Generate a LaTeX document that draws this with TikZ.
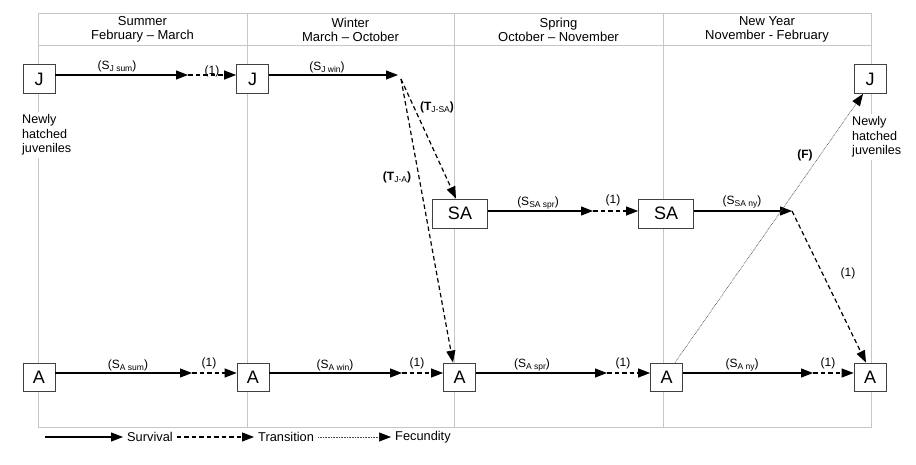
\documentclass[tikz,border=0pt]{standalone}
\usepackage{fontspec}
\setmainfont{Liberation Sans}
\usetikzlibrary{arrows.meta,calc}
\newcommand{\lsub}[1]{\raisebox{-0.3ex}{\fontsize{8.5}{9}\selectfont #1}}
\begin{document}
\begin{tikzpicture}[x=1pt,y=-1pt,
 grid/.style={draw=black!22,line width=0.7pt},
 stage/.style={draw=black!75,fill=white,line width=0.8pt,minimum height=29pt,inner sep=0pt,font=\fontsize{18}{18}\selectfont},
 jbox/.style={stage,minimum width=32pt},
 abox/.style={stage,minimum width=32pt,minimum height=28pt},
 sabox/.style={stage,minimum width=55pt},
 surv/.style={draw=black,line width=1.2pt,-{Triangle[length=12pt,width=9pt]}},
 trans/.style={draw=black,line width=1.2pt,dash pattern=on 4.5pt off 3pt,-{Triangle[length=12pt,width=9pt]}},
 fec/.style={draw=black!70,line width=0.6pt,dash pattern=on 0.8pt off 0.8pt,-{Triangle[length=12pt,width=9pt,color=black]}},
 lab/.style={font=\fontsize{12}{12}\selectfont,inner sep=0pt},
 blab/.style={lab,font=\fontsize{12}{12}\selectfont\bfseries},
 head/.style={font=\fontsize{13}{14}\selectfont,align=center,inner sep=0pt},
 note/.style={font=\fontsize{12.6}{14.5}\selectfont,align=left,fill=white,inner sep=3pt,anchor=north west},
 leg/.style={font=\fontsize{12.8}{13}\selectfont,inner sep=4pt,anchor=west}
]
\fill[white] (0,0) rectangle (916,465);
\useasboundingbox (0,0) rectangle (916,465);
% grid
\draw[grid] (38,13) rectangle (871,427);
\draw[grid] (38,45) -- (871,45);
\foreach \x in {247,454,663} \draw[grid] (\x,13) -- (\x,427);
% headers
\node[head] (h1) at (142.5,29.5) {Summer\\February – March};
\node[head] (h2) at (350.5,29.5) {Winter\\March – October};
\node[head] (h3) at (558.5,29.5) {Spring\\October – November};
\node[head] (h4) at (767,29.5) {New Year\\November - February};
% notes
\node[note] (n1) at (19,111.5) {Newly\\hatched\\juveniles};
\node[note] (n2) at (849,113.5) {Newly\\hatched\\juveniles};
% boxes
\node[jbox] (J1) at (39,79) {J};
\node[jbox] (J2) at (252.5,79) {J};
\node[jbox] (J3) at (870,79) {J};
\node[sabox] (SA1) at (460,213.5) {SA};
\node[sabox] (SA2) at (666,213.5) {SA};
\node[abox] (A1) at (39,377) {A};
\node[abox] (A2) at (253,377) {A};
\node[abox] (A3) at (459.5,377) {A};
\node[abox] (A4) at (666.5,377) {A};
\node[abox] (A5) at (870,377) {A};
% juvenile row
\coordinate (j1m) at (188,75);
\draw[surv] ([yshift=4pt]J1.east) -- (j1m);
\draw[trans] (j1m) -- (J2.west |- j1m);
\node[lab] (l1) at (117,66) {(S\lsub{J sum})};
\node[lab] (l2) at (212,71) {(1)};
\coordinate (j2m) at (398,75);
\draw[surv] ([yshift=4pt]J2.east) -- (j2m);
\node[lab] (l3) at (327,67) {(S\lsub{J win})};
\coordinate (jsplit) at (401,79);
\draw[trans] (jsplit) -- ([xshift=-4pt]SA1.north);
\draw[trans] (jsplit) -- ([xshift=-6.5pt]A3.north);
\node[blab] (l4) at (437,107) {(T\lsub{\mdseries J-SA})};
\node[blab] (l5) at (397,177) {(T\lsub{\mdseries J-A})};
% subadult row
\coordinate (sa1m) at (593,211);
\draw[surv] ([yshift=2.5pt]SA1.east) -- (sa1m);
\draw[trans] (sa1m) -- (SA2.west |- sa1m);
\node[lab] (l6) at (538,203) {(S\lsub{SA spr})};
\node[lab] (l7) at (613,200) {(1)};
\coordinate (sa2m) at (792,211);
\draw[surv] ([yshift=2.5pt]SA2.east) -- (sa2m);
\node[lab] (l8) at (742,202) {(S\lsub{SA ny})};
\draw[trans] (sa2m) -- ([xshift=-4pt]A5.north);
\node[lab] (l9) at (848,273) {(1)};
% adult row
\coordinate (a1m) at (192,373);
\draw[surv] ([yshift=4pt]A1.east) -- (a1m);
\draw[trans] (a1m) -- (A2.west |- a1m);
\node[lab] (l10) at (128,365) {(S\lsub{A sum})};
\node[lab] (l11) at (209,363) {(1)};
\coordinate (a2m) at (402,373);
\draw[surv] ([yshift=4pt]A2.east) -- (a2m);
\draw[trans] (a2m) -- (A3.west |- a2m);
\node[lab] (l12) at (335,365) {(S\lsub{A win})};
\node[lab] (l13) at (417,363) {(1)};
\coordinate (a3m) at (607,373);
\draw[surv] ([yshift=4pt]A3.east) -- (a3m);
\draw[trans] (a3m) -- (A4.west |- a3m);
\node[lab] (l14) at (532,365) {(S\lsub{A spr})};
\node[lab] (l15) at (623,363) {(1)};
\coordinate (a4m) at (813,373);
\draw[surv] ([yshift=4pt]A4.east) -- (a4m);
\draw[trans] (a4m) -- (A5.west |- a4m);
\node[lab] (l16) at (742,365) {(S\lsub{A ny})};
\node[lab] (l17) at (828,363) {(1)};
% fecundity
\draw[fec] ([xshift=8.5pt]A4.north) -- ([xshift=-7pt]J3.south);
\node[blab] (l18) at (805,155) {(F)};
% legend
\coordinate (lg1) at (45,437);
\node[leg] (ls) at (123,437) {Survival};
\node[leg] (lt) at (254,437) {Transition};
\node[leg] (lf) at (391,437) {Fecundity};
\draw[surv] (lg1) -- (ls.west);
\draw[trans] (ls.east) -- (lt.west);
\draw[fec] (lt.east) -- (lf.west);
\end{tikzpicture}
\end{document}
